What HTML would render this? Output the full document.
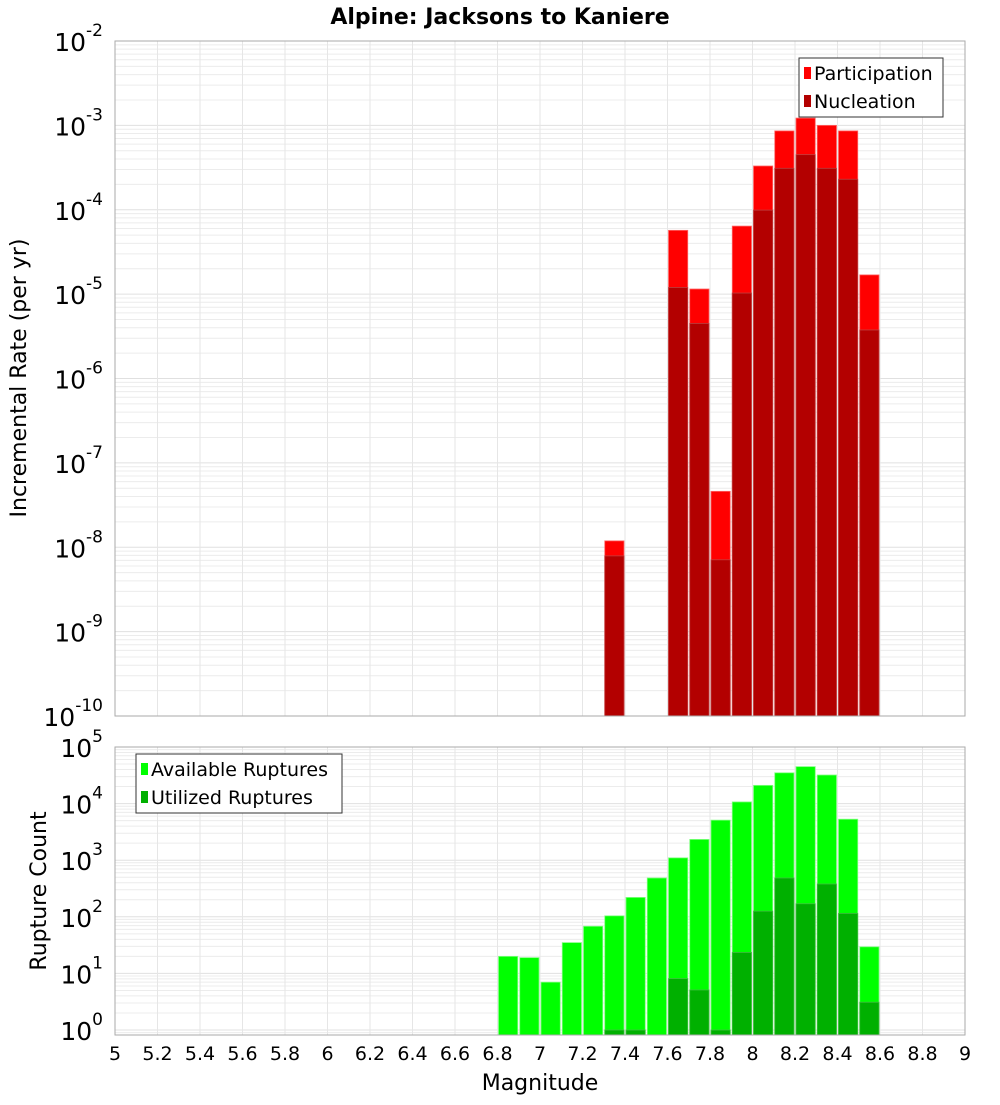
<!DOCTYPE html>
<html><head><meta charset="utf-8"><style>
body{margin:0;background:#fff;font-family:"Liberation Sans","DejaVu Sans",sans-serif}
svg text{font-family:"DejaVu Sans","Liberation Sans",sans-serif}
</style></head><body>
<svg id="chart" width="1000" height="1100" xmlns="http://www.w3.org/2000/svg"></svg>
<script>
const mags=[6.8,6.9,7.0,7.1,7.2,7.3,7.4,7.5,7.6,7.7,7.8,7.9,8.0,8.1,8.2,8.3,8.4,8.5];
const participation=[null,null,null,null,null,1.19e-8,null,null,5.7e-5,1.15e-5,4.6e-8,6.4e-5,3.3e-4,8.6e-4,1.22e-3,1.0e-3,8.6e-4,1.69e-5];
const nucleation=[null,null,null,null,null,7.9e-9,null,null,1.2e-5,4.5e-6,7.1e-9,1.03e-5,9.9e-5,3.1e-4,4.5e-4,3.1e-4,2.3e-4,3.76e-6];
const available=[20,19,7,35,68,104,220,485,1100,2330,5100,10700,21000,35000,45000,32000,5300,29.5];
const utilized=[null,null,null,null,null,1,1,null,8.1,5.1,1,23.5,126,485,170,380,115,3.1];
const xTicks=[5,5.2,5.4,5.6,5.8,6,6.2,6.4,6.6,6.8,7,7.2,7.4,7.6,7.8,8,8.2,8.4,8.6,8.8,9];
const topExp=[-10,-9,-8,-7,-6,-5,-4,-3,-2];
const botExp=[0,1,2,3,4,5];

const NS="http://www.w3.org/2000/svg";
const svg=document.getElementById('chart');
const L=115,R=965;
const T1=41,B1=716,T2=747,B2=1035;
const x=m=>L+(m-5)/4*(R-L);
const y1=v=>T1+(-2-Math.log10(v))*(B1-T1)/8;
const y2=v=>T2+(5-Math.log10(v))*56.6;
function el(tag,attrs,parent){const e=document.createElementNS(NS,tag);for(const k in attrs)e.setAttribute(k,attrs[k]);(parent||svg).appendChild(e);return e;}

function panel(T,B,yf,lo,hi,exps,name){
  const g=el('g',{});
  
  
  el('rect',{x:L,y:T,width:R-L,height:B-T,fill:'#fff'},g);
  for(let e=lo;e<hi;e++)for(let k=1;k<10;k++){const yy=yf(k*Math.pow(10,e));if(yy>=T&&yy<=B)el('line',{x1:L,x2:R,y1:yy,y2:yy,stroke:k==1?'#e0e0e0':'#ececec','stroke-width':1},g);}
  xTicks.forEach(t=>el('line',{x1:x(t),x2:x(t),y1:T,y2:B,stroke:'#e6e6e6'},g));
  return g;
}
const g1=panel(T1,B1,y1,-10,-2,topExp,'rate-plot');
const g2=panel(T2,B2,y2,-1,5,botExp,'count-plot');

function bars(arr,yf,B,color,edge,name,parent){
  arr.forEach((v,i)=>{if(v==null)return;const x0=x(mags[i])+1,x1=x(mags[i]+0.1)-1;const yy=Math.max(yf(v),0);
    const r=el('rect',{x:x0,y:yy,width:x1-x0,height:B-yy,fill:color,stroke:edge,'stroke-width':0.8},parent);
    
    });
}
bars(participation,y1,B1,'#ff0000','#ff6666','participation-bar',g1);
bars(nucleation,y1,B1,'#b30000','#c04040','nucleation-bar',g1);
bars(available,y2,B2,'#00ff00','#80ff80','available-bar',g2);
bars(utilized,y2,B2,'#00b000','#40c040','utilized-bar',g2);
el('rect',{x:L,y:T1,width:R-L,height:B1-T1,fill:'none',stroke:'#aaa'});
el('rect',{x:L,y:T2,width:R-L,height:B2-T2,fill:'none',stroke:'#aaa'});

function ylab(e,yy,name){const t=el('text',{x:103,y:yy+10,'text-anchor':'end','font-size':25,fill:'#000'});
  
  t.textContent='10';const s=el('tspan',{dy:-15,'font-size':17},t);s.textContent=String(e);}
topExp.forEach(e=>ylab(e,y1(Math.pow(10,e)),'y-tick-label'));
botExp.forEach(e=>ylab(e,y2(Math.pow(10,e)),'y2-tick-label'));
xTicks.forEach(t=>{const tx=el('text',{x:x(t),y:1060,'text-anchor':'middle','font-size':19,fill:'#000'});
  tx.textContent=String(t);});

function txt(s,attrs,name){const t=el('text',attrs);t.textContent=s;return t;}
txt('Alpine: Jacksons to Kaniere',{x:500,y:24,'text-anchor':'middle','font-size':22,'font-weight':'bold'},'chart-title');
txt('Magnitude',{x:540,y:1090,'text-anchor':'middle','font-size':22},'x-axis-title');
txt('Incremental Rate (per yr)',{x:26,y:378,'text-anchor':'middle','font-size':22,transform:'rotate(-90 26 378)'},'y-axis-title');
txt('Rupture Count',{x:46,y:891,'text-anchor':'middle','font-size':22,transform:'rotate(-90 46 891)'},'y2-axis-title');

function legend(x0,y0,w,items,name){const g=el('g',{});
  el('rect',{x:x0,y:y0,width:w,height:59,fill:'#fff',stroke:'#333'},g);
  items.forEach((it,i)=>{el('rect',{x:x0+5,y:y0+9+i*28,width:7,height:12,fill:it[1]},g);
    const t=el('text',{x:x0+15,y:y0+22+i*28,'font-size':19},g);t.textContent=it[0];});}
legend(799,58,144,[['Participation','#ff0000'],['Nucleation','#b30000']],'rate-legend');
legend(136,754,206,[['Available Ruptures','#00ff00'],['Utilized Ruptures','#00b000']],'count-legend');
</script>
</body></html>
